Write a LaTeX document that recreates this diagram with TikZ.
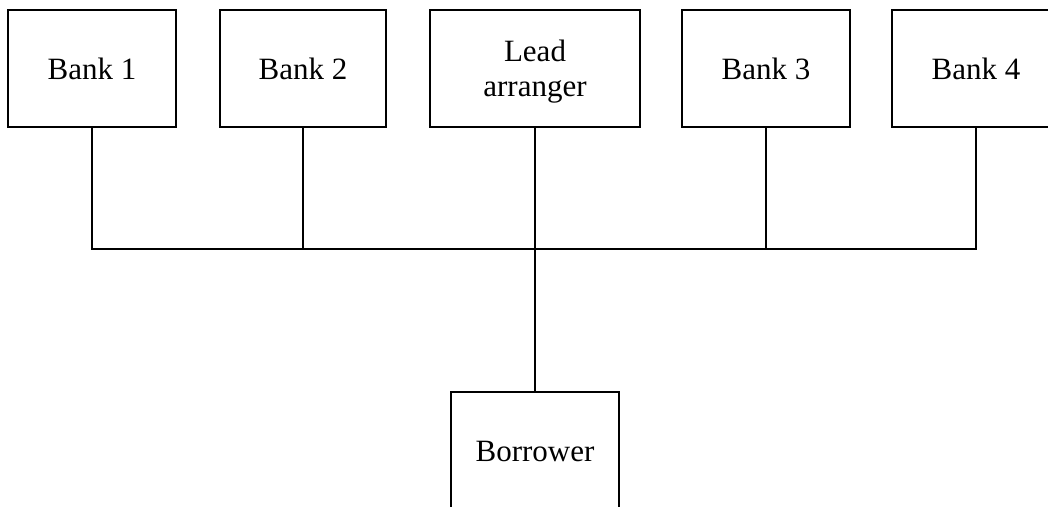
\documentclass[tikz,border=0pt]{standalone}
\usepackage{fontspec}
\setmainfont{Liberation Serif}
\begin{document}
\begin{tikzpicture}[x=1pt,y=-1pt,
  box/.style={draw=black,line width=2pt,minimum height=117pt,inner sep=0pt,
    align=center,font=\fontsize{31}{35}\selectfont},
  link/.style={draw=black,line width=2pt}]
\useasboundingbox (0,0) rectangle (1048,506);
\clip (0,0) rectangle (1048,506);
\node[box,minimum width=168pt] (b1) at (92,68.5) {Bank 1};
\node[box,minimum width=166pt] (b2) at (303,68.5) {Bank 2};
\node[box,minimum width=210pt,text depth=0pt] (lead) at (535,68.5) {Lead\\arranger};
\node[box,minimum width=168pt] (b3) at (766,68.5) {Bank 3};
\node[box,minimum width=168pt] (b4) at (976,68.5) {Bank 4};
\node[box,minimum width=168pt,minimum height=118pt] (bor) at (535,451) {Borrower};
\coordinate (left) at (b1.south |- 0,249);
\coordinate (right) at (b4.south |- 0,249);
\draw[link] (b1.south) -- (left) -- (right) -- (b4.south);
\draw[link] (b2.south) -- (b2.south |- left);
\draw[link] (b3.south) -- (b3.south |- left);
\draw[link] (lead.south) -- (bor.north);
\end{tikzpicture}
\end{document}
